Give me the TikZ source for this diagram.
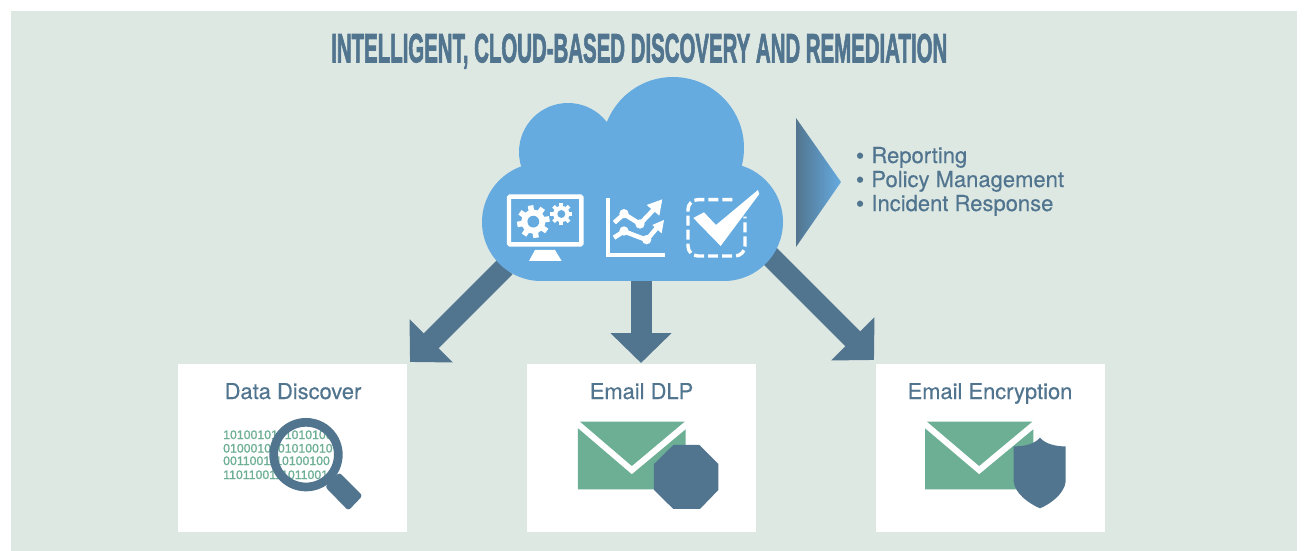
\documentclass[tikz,border=0pt]{standalone}
\usepackage{fontspec}
\usepackage{graphicx}
\setmainfont[FakeBold=0.35]{TeX Gyre Heros}
\newfontfamily\titlefont[FakeBold=2.5]{Liberation Sans Bold}
\newfontfamily\digitfont[FakeBold=1.2]{Liberation Sans}
\newfontfamily\dotfont[FakeBold=1]{Liberation Sans}
\usetikzlibrary{arrows.meta}
\definecolor{bgc}{HTML}{DEE8E3}
\definecolor{slate}{HTML}{52758F}
\definecolor{sky}{HTML}{65ABE0}
\definecolor{leaf}{HTML}{6DAF95}
\tikzset{
  card/.style={fill=white,draw=none,minimum width=229pt,minimum height=168pt,inner sep=0pt,anchor=north west},
  cardlabel/.style={text=slate,font=\fontsize{21.9pt}{24pt}\selectfont,inner sep=0pt,anchor=base},
  bullet/.style={text=slate,font=\fontsize{22pt}{24pt}\selectfont,inner sep=0pt,anchor=base west},
  blockarrow/.style={draw=slate,line width=21pt,-{Triangle[length=30pt,width=59.5pt]}},
  digits/.style={text=leaf,font=\digitfont\fontsize{12.3pt}{12pt}\selectfont,inner sep=0pt,anchor=base west},
  iconline/.style={draw=white,line width=4.4pt},
  crop/.style={x=0.3333pt,y=-0.3333pt}
}
\newcommand{\bulletmark}{{\dotfont •}\hspace{7.5pt}}
\newcommand{\gearicon}[4]{% x y radius rotation
  \fill[white] (#1,#2) circle[radius=#3*0.74];
  \foreach \a in {0,45,...,315}{
    \fill[white,shift={(#1,#2)},rotate=\a+#4] (#3*0.6,-#3*0.17) rectangle (#3,#3*0.17);
  }
  \fill[sky] (#1,#2) circle[radius=#3*0.36];
}
\newcommand{\envelope}[2]{% left, right crop x
  \pgfmathsetmacro{\mx}{(#1+#2)/2}
  \fill[leaf] (#1+6,185) -- (#2-3,185) -- (\mx,318) -- cycle;
  \fill[leaf] (#1,205) -- (\mx,343) -- (#2,208) -- (#2,388) -- (#1,388) -- cycle;
}
\begin{document}
\begin{tikzpicture}[x=1pt,y=-1pt]
\useasboundingbox (0,0) rectangle (1307,551);
\fill[white] (0,0) rectangle (1307,551);
\fill[bgc] (11,11) rectangle (1297,551);

% title
\node[anchor=south west,inner sep=0pt,text=slate] (title) at (331,62.5)
  {\resizebox{616pt}{28.5pt}{\raisebox{0pt}[\height][0pt]{\titlefont INTELLIGENT, CLOUD-BASED DISCOVERY AND REMEDIATION}}};

% anchors of the connectors
\coordinate (cloudL) at (505,267);
\coordinate (cloudM) at (641,265);
\coordinate (cloudR) at (769,255);
\coordinate (tipL) at (410,362);
\coordinate (tipM) at (641,363);
\coordinate (tipR) at (874,360);

\draw[blockarrow] (cloudL) -- (tipL);
\draw[blockarrow] (cloudM) -- (tipM);
\draw[blockarrow] (cloudR) -- (tipR);

% cloud
\fill[sky] (541,222) circle[radius=59];
\fill[sky] (724,222) circle[radius=59];
\fill[sky] (568,152) circle[radius=49];
\fill[sky] (673,148) circle[radius=71];
\fill[sky] (541,163) rectangle (724,281);

% side triangle
\shade[left color=slate,right color=sky] (796,118) -- (841,182) -- (796,247) -- cycle;

% bullets
\node[bullet] (bu1) at (856,163) {\bulletmark Reporting};
\node[bullet] (bu2) at (856,187) {\bulletmark Policy Management};
\node[bullet] (bu3) at (856,211) {\bulletmark Incident Response};

% cards
\node[card] (card1) at (178,364) {};
\node[card] (card2) at (527,364) {};
\node[card] (card3) at (876,364) {};
\node[cardlabel] (lab1) at (293,399) {Data Discover};
\node[cardlabel] (lab2) at (641.5,399) {Email DLP};
\node[cardlabel] (lab3) at (990,399) {Email Encryption};

% cloud icons
\begin{scope}[shift={(480,70)},crop]
  % monitor
  \draw[iconline,rounded corners=1pt] (87,380) rectangle (304,523);
  \fill[white] (165,540) -- (225,540) -- (245,573) -- (147,573) -- cycle;
  \gearicon{160}{455}{49}{10}
  \gearicon{244}{432}{33}{0}
  % chart
  \draw[draw=white,line width=4pt] (383,383) -- (383,555) -- (556,555);
  \draw[iconline,line width=4.6pt] (403,458) -- (432,432) -- (480,462) -- (522,418);
  \fill[white] (500,405) -- (547,388) -- (538,437) -- cycle;
  \fill[white] (432,431) circle[radius=14];
  \fill[white] (480,462) circle[radius=14];
  \draw[iconline,line width=4.6pt] (402,503) -- (432,484) -- (500,510) -- (532,472);
  \fill[white] (517,465) -- (552,450) -- (545,490) -- cycle;
  \fill[white] (432,483) circle[radius=14];
  \fill[white] (500,509) circle[radius=14];
  % dashed box and check
  \draw[draw=white,line width=3.4pt,rounded corners=10pt,dash pattern=on 10pt off 4pt]
    (757,389) -- (624,389) -- (624,558) -- (795,558) -- (795,440);
  \fill[white] (640,444) -- (672,427) -- (708,465) -- (834,360) -- (838,372) -- (722,528) -- cycle;
\end{scope}

% card 1 icon
\node[digits] (d1) at (223,439) {1010010101010100};
\node[digits] (d2) at (223,452.5) {0100010101010010};
\node[digits] (d3) at (223,465) {0011001110100100};
\node[digits] (d4) at (223,479) {1101100111011001};
\begin{scope}[shift={(170,360)},crop]
  \fill[slate,rounded corners=3pt] (465,380) -- (508,337) -- (578,407) -- (535,452) -- cycle;
  \draw[draw=slate,line width=8.7pt] (408,284) circle[radius=97];
\end{scope}

% card 2 icon
\begin{scope}[shift={(520,360)},crop]
  \envelope{174}{497}
  \fill[slate] (460,255) -- (538,255) -- (595,312) -- (595,390) -- (540,447) -- (460,447) -- (402,390) -- (402,312) -- cycle;
\end{scope}

% card 3 icon
\begin{scope}[shift={(870,360)},crop]
  \envelope{165}{490}
  \fill[slate] (510,233) .. controls (495,252) and (460,260) .. (431,259)
    -- (431,365) .. controls (435,400) and (475,430) .. (510,445)
    .. controls (545,430) and (583,400) .. (587,365)
    -- (587,259) .. controls (560,260) and (525,252) .. (510,233) -- cycle;
\end{scope}
\end{tikzpicture}
\end{document}
